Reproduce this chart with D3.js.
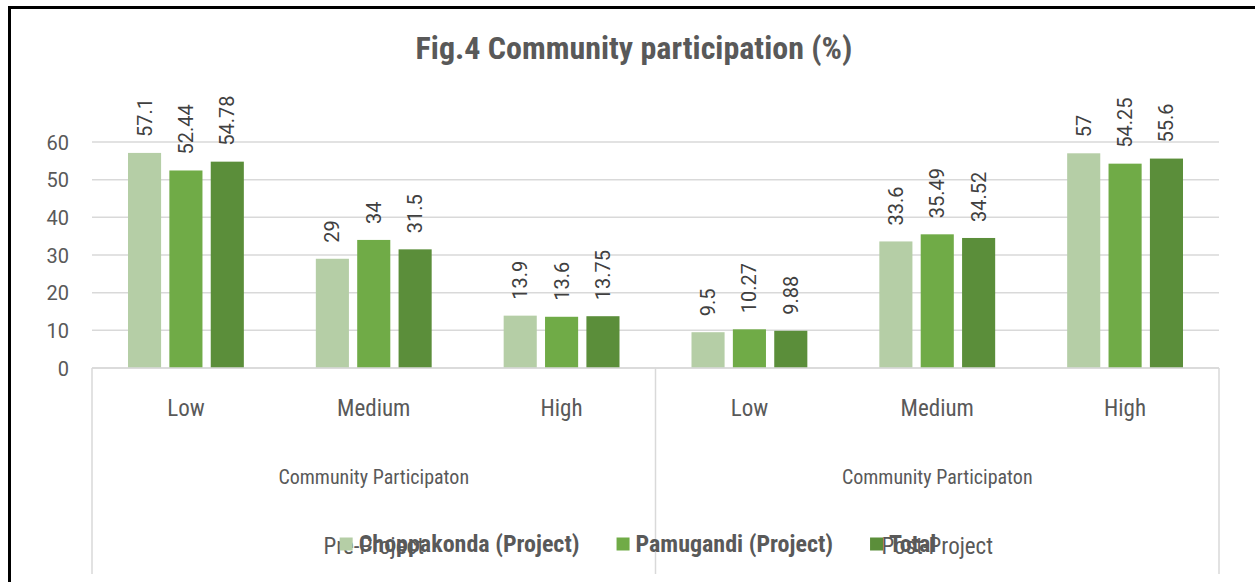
<!DOCTYPE html>
<html>
<head>
<meta charset="utf-8">
<script src="https://cdn.jsdelivr.net/npm/d3@7"></script>
<style>
  html, body { margin: 0; padding: 0; background: #fff; }
  svg { display: block; }
</style>
</head>
<body>
<svg id="chart" width="1255" height="582"></svg>
<script>
// ---- data ----
const levels = ["Low", "Medium", "High"];
const phases = ["Pre-Project", "Post-Project"];
const groupLabel = "Community Participaton";
const seriesNames = ["Choppakonda (Project)", "Pamugandi (Project)", "Total"];
const choppakonda = [57.1, 29, 13.9, 9.5, 33.6, 57];
const pamugandi = [52.44, 34, 13.6, 10.27, 35.49, 54.25];
const total = [54.78, 31.5, 13.75, 9.88, 34.52, 55.6];
const yTicks = [0, 10, 20, 30, 40, 50, 60];
const colors = ["#b5cea6", "#70ab47", "#5b8e3a"];
const title = "Fig.4 Community participation (%)";

const seriesValues = [choppakonda, pamugandi, total];
const categories = [];
phases.forEach(p => levels.forEach(l => categories.push({ key: p + "|" + l, phase: p, level: l })));

const svg = d3.select("#chart");
const W = 1255, H = 582;
const plotL = 92, plotR = 1219, plotT = 142, plotB = 368;
const textColor = "#595959";
const narrow = "'Liberation Sans Narrow', 'Roboto Condensed', 'DejaVu Sans Condensed', sans-serif";
const gridColor = "#d9d9d9";

// outer frame
svg.append("rect").attr("x", 0).attr("y", 0).attr("width", W).attr("height", H).attr("fill", "#fff");
svg.append("path").attr("d", `M9.5,${H + 5} V7.5 H${W + 5}`)
  .attr("fill", "none").attr("stroke", "#000").attr("stroke-width", 3);

// title
svg.append("text").attr("x", 634).attr("y", 48)
  .attr("text-anchor", "middle").attr("dominant-baseline", "central")
  .style("font-family", narrow).style("font-weight", "bold").style("font-size", "32px")
  .attr("fill", textColor).text(title);

const y = d3.scaleLinear().domain([0, 60]).range([plotB, plotT]);
const x0 = d3.scaleBand().domain(categories.map(c => c.key)).range([plotL, plotR]).padding(0);
const x1 = d3.scaleBand().domain(seriesNames).range([0, x0.bandwidth()]).paddingInner(0.2).paddingOuter(0.87);

// gridlines
svg.append("g").selectAll("line").data(yTicks).join("line")
  .attr("x1", plotL).attr("x2", plotR)
  .attr("y1", d => y(d)).attr("y2", d => y(d))
  .attr("stroke", gridColor).attr("stroke-width", 1.5);

// y axis labels
const yAxis = d3.axisLeft(y).tickValues(yTicks).tickSize(0).tickPadding(0);
const yg = svg.append("g").attr("transform", `translate(69,0)`).call(yAxis);
yg.select(".domain").remove();
yg.selectAll("text").style("font-family", "Roboto, sans-serif").style("font-size", "20px")
  .attr("fill", textColor).attr("dy", "0.36em");

// bars
const barData = [];
categories.forEach((c, i) => seriesNames.forEach((s, j) => barData.push({ cat: c.key, s, j, v: seriesValues[j][i] })));

svg.append("g").selectAll("rect").data(barData).join("rect")
  .attr("x", d => x0(d.cat) + x1(d.s))
  .attr("y", d => y(d.v))
  .attr("width", x1.bandwidth())
  .attr("height", d => y(0) - y(d.v))
  .attr("fill", d => colors[d.j]);

// data labels
svg.append("g").selectAll("text").data(barData).join("text")
  .attr("transform", d => `translate(${x0(d.cat) + x1(d.s) + x1.bandwidth() / 2 + 7},${y(d.v) - 16}) rotate(-90)`)
  .attr("text-anchor", "start")
  .style("font-family", "Roboto, sans-serif").style("font-size", "20px")
  .attr("fill", "#404040")
  .text(d => String(d.v));

// x axis line and multi-level separators
svg.append("line").attr("x1", plotL).attr("x2", plotR).attr("y1", plotB).attr("y2", plotB)
  .attr("stroke", gridColor).attr("stroke-width", 1.5);
const seps = [plotL, x0(categories[3].key), plotR];
svg.append("g").selectAll("line").data(seps).join("line")
  .attr("x1", d => d).attr("x2", d => d).attr("y1", plotB).attr("y2", 574)
  .attr("stroke", gridColor).attr("stroke-width", 1.5);

// level labels
svg.append("g").selectAll("text").data(categories).join("text")
  .attr("x", d => x0(d.key) + x0.bandwidth() / 2).attr("y", 408)
  .attr("text-anchor", "middle").attr("dominant-baseline", "central")
  .style("font-family", narrow).style("font-size", "23px").attr("fill", textColor)
  .text(d => d.level);

// group labels and phase labels
const phaseCenters = phases.map((p, i) => {
  const ks = categories.filter(c => c.phase === p).map(c => c.key);
  return { p, cx: (x0(ks[0]) + x0(ks[ks.length - 1]) + x0.bandwidth()) / 2 };
});
svg.append("g").selectAll("text").data(phaseCenters).join("text")
  .attr("x", d => d.cx).attr("y", 477)
  .attr("text-anchor", "middle").attr("dominant-baseline", "central")
  .style("font-family", narrow).style("font-size", "20px").attr("fill", textColor)
  .text(groupLabel);
svg.append("g").selectAll("text").data(phaseCenters).join("text")
  .attr("x", d => d.cx).attr("y", 546)
  .attr("text-anchor", "middle").attr("dominant-baseline", "central")
  .style("font-family", narrow).style("font-size", "23px").attr("fill", textColor)
  .text(d => d.p);

// legend
const lg = svg.append("g");
const items = lg.selectAll("g").data(seriesNames).join("g");
items.append("rect").attr("width", 13).attr("height", 13).attr("y", -6.5).attr("fill", (d, i) => colors[i]);
items.append("text").attr("x", 19).attr("dominant-baseline", "central")
  .style("font-family", narrow).style("font-weight", "bold").style("font-size", "24px")
  .attr("fill", textColor).text(d => d);
let xpos = 0;
items.each(function () {
  const w = this.getBBox().width;
  d3.select(this).attr("data-x", xpos);
  xpos += w + 37;
});
const totalW = xpos - 37;
const startX = 638 - totalW / 2;
items.attr("transform", function () { return `translate(${startX + (+d3.select(this).attr("data-x"))},544)`; });
</script>
</body>
</html>
